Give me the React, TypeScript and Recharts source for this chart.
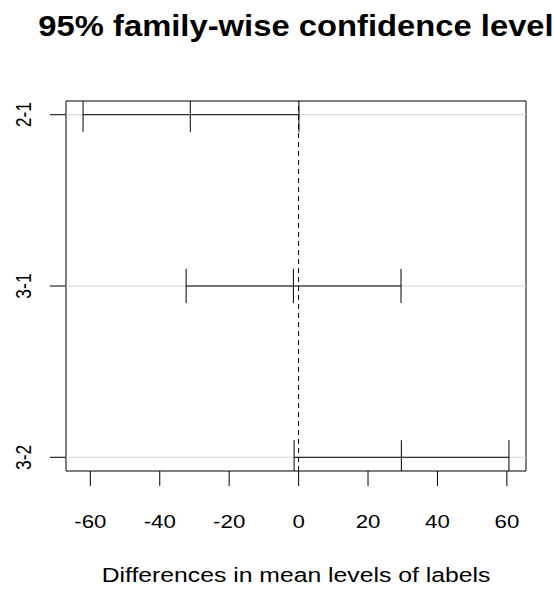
import React from 'react';
import { ComposedChart, XAxis, YAxis, ReferenceLine, ReferenceArea, Scatter } from 'recharts';

// Tukey HSD comparisons, listed top to bottom
const comparisons = ['2-1', '3-1', '3-2'];
const diffs = [-31.2, -1.5, 29.6];
const lowers = [-62.1, -32.4, -1.3];
const uppers = [0.1, 29.5, 60.6];
const xTicks = [-60, -40, -20, 0, 20, 40, 60];

const FONT = '"Liberation Sans", Arial, Helvetica, sans-serif';

// rows are placed at n..1 like the base plot does
const rows = comparisons.map((name, i) => ({
  name,
  y: comparisons.length - i,
  diff: diffs[i],
  lwr: lowers[i],
  upr: uppers[i]
}));

const lo = Math.min(...lowers);
const hi = Math.max(...uppers);
const pad = (hi - lo) * 0.04;
const xDomain: [number, number] = [lo - pad, hi + pad];
const yPad = (comparisons.length - 1) * 0.04;
const yDomain: [number, number] = [1 - yPad, comparisons.length + yPad];
const capHalf = 0.1;

const XTick = ({ x, y, payload }: any) => (
  <text
    transform={`translate(${x},${y + 41.5}) scale(1.27,1)`}
    textAnchor="middle"
    fontFamily={FONT}
    fontSize={17.5}
    fill="#000"
  >
    {payload.value}
  </text>
);

const YTick = ({ x, y, payload }: any) => {
  const row = rows.find((r) => r.y === payload.value);
  return (
    <text
      transform={`translate(${x - 19.5},${y}) rotate(-90) scale(1,1.27)`}
      textAnchor="middle"
      fontFamily={FONT}
      fontSize={17.5}
      fill="#000"
    >
      {row ? row.name : ''}
    </text>
  );
};

const XTitle = ({ viewBox }: any) => {
  const cx = viewBox.x + viewBox.width / 2;
  const by = viewBox.y + viewBox.height - 7;
  return (
    <text
      transform={`translate(${cx},${by}) scale(1.27,1)`}
      textAnchor="middle"
      fontFamily={FONT}
      fontSize={19.5}
      fill="#000"
    >
      Differences in mean levels of labels
    </text>
  );
};

export default function App() {
  return (
    <div style={{ position: 'absolute', left: 0, top: 0, width: 554, height: 589, background: '#fff' }}>
      <svg width={554} height={60} style={{ position: 'absolute', left: 0, top: 0 }}>
        <text
          transform="translate(296,36) scale(1.13,1)"
          textAnchor="middle"
          fontFamily={FONT}
          fontWeight="bold"
          fontSize={29}
          fill="#000"
        >
          95% family-wise confidence level
        </text>
      </svg>
      <ComposedChart width={554} height={589} data={rows} margin={{ top: 101, right: 28, bottom: 0, left: 0 }}>
        <XAxis
          type="number"
          dataKey="diff"
          domain={xDomain}
          ticks={xTicks}
          allowDataOverflow
          axisLine={false}
          tickLine={{ stroke: '#000' }}
          tickSize={15}
          tickMargin={0}
          height={118}
          tick={<XTick />}
          label={<XTitle />}
        />
        <YAxis
          type="number"
          dataKey="y"
          domain={yDomain}
          ticks={rows.map((r) => r.y)}
          allowDataOverflow
          axisLine={false}
          tickLine={{ stroke: '#000' }}
          tickSize={16}
          tickMargin={0}
          width={66}
          tick={<YTick />}
        />
        {rows.map((r) => (
          <ReferenceLine key={`g-${r.name}`} y={r.y} stroke="#d3d3d3" strokeWidth={1} ifOverflow="hidden" />
        ))}
        <ReferenceLine x={0} stroke="#000" strokeWidth={1} strokeDasharray="5 4" ifOverflow="hidden" />
        {rows.map((r) => (
          <ReferenceLine
            key={`s-${r.name}`}
            segment={[{ x: r.lwr, y: r.y }, { x: r.upr, y: r.y }]}
            stroke="#000"
            strokeWidth={1}
            ifOverflow="hidden"
          />
        ))}
        {rows.flatMap((r) =>
          [r.lwr, r.diff, r.upr].map((v, j) => (
            <ReferenceLine
              key={`c-${r.name}-${j}`}
              segment={[{ x: v, y: r.y - capHalf }, { x: v, y: r.y + capHalf }]}
              stroke="#000"
              strokeWidth={1}
              ifOverflow="hidden"
            />
          ))
        )}
        <Scatter dataKey="y" isAnimationActive={false} shape={() => <g />} />
        <ReferenceArea
          x1={xDomain[0]}
          x2={xDomain[1]}
          y1={yDomain[0]}
          y2={yDomain[1]}
          fill="none"
          stroke="#000"
          strokeWidth={1}
          ifOverflow="visible"
        />
      </ComposedChart>
    </div>
  );
}
